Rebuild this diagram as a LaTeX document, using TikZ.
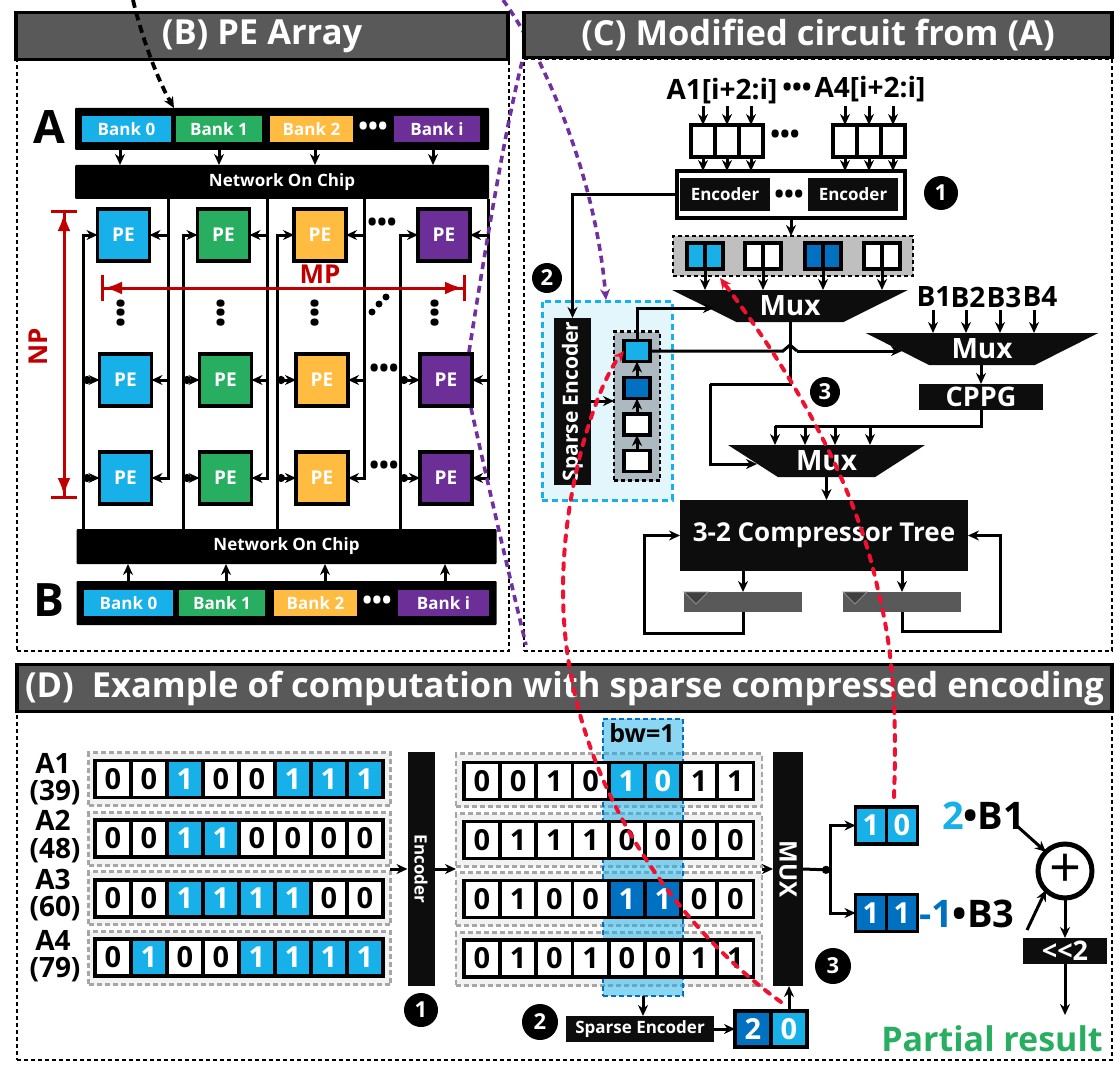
\documentclass[tikz,border=0pt]{standalone}
\usepackage{fontspec}
\setmainfont{Open Sans}
\usetikzlibrary{positioning,arrows.meta,shapes.geometric}
\definecolor{lblue}{HTML}{17B0E8}
\definecolor{dblue}{HTML}{0070C0}
\definecolor{pegreen}{HTML}{27AE60}
\definecolor{peorange}{HTML}{FFBC40}
\definecolor{pepurple}{HTML}{6B2F97}
\definecolor{darkred}{HTML}{C00000}
\definecolor{brightred}{HTML}{F01030}
\definecolor{linepurple}{HTML}{7030A0}
\definecolor{hdrgray}{HTML}{595959}
\definecolor{boxblack}{HTML}{0D0D0D}
\definecolor{queuegray}{HTML}{ADB9C0}
\newcommand{\fsz}[1]{\fontsize{#1}{#1}\selectfont\bfseries}
\tikzset{
  node distance=5pt,
  >={Stealth[length=11pt,width=10pt]},
  every node/.style={inner sep=0pt,outer sep=0pt},
  wire/.style={line width=3pt},
  panel/.style={draw,line width=2.8pt,dash pattern=on 4pt off 3pt},
  hdr/.style={draw,line width=3.2pt,fill=hdrgray,text=white,font=\fsz{34.5}},
  blackbar/.style={fill=black,text=white,font=\fsz{17},rounded corners=1pt},
  bank/.style={text=white,font=\fsz{17},minimum height=25.5pt},
  pebox/.style={draw,line width=3.2pt,text=white,font=\fsz{19},minimum size=52pt},
  dots/.style={font=\fsz{26}},
  bigred/.style={draw=darkred,line width=3pt,{Bar[width=26pt]Latex[length=18pt,width=13pt]}-{Latex[length=18pt,width=13pt]Bar[width=26pt]}},
  blk/.style={fill=boxblack,text=white,font=\fsz{17}},
  num/.style={circle,fill=black,text=white,minimum size=#1,font=\fsz{22}},
  cell/.style={draw,line width=3.8pt},
  bitn/.style={fill=white,text=black},
  bitl/.style={fill=lblue,text=white},
  bitd/.style={fill=dblue,text=white},
  bitcell/.style={cell,font=\fsz{29}},
  band/.style={draw=black!35,fill=black!5,line width=2.6pt,dash pattern=on 5pt off 3pt},
  mux/.style={trapezium,shape border rotate=180,trapezium stretches=true,trapezium left angle=#1,trapezium right angle=#1,fill=boxblack,text=white,font=\fsz{28}},
  lbl/.style={font=\fsz{28}},
  regbox/.style={fill=hdrgray,minimum width=118pt,minimum height=20pt},
  reddash/.style={draw=brightred,line width=4pt,dash pattern=on 6pt off 8pt,line cap=round},
  purpledash/.style={draw=linepurple,line width=3.6pt,dash pattern=on 7pt off 5pt},
}
\begin{document}
\begin{tikzpicture}[x=1pt,y=-1pt]
\useasboundingbox (0,0) rectangle (1120,1070);
\node[panel,minimum width=492pt,minimum height=592pt] (panb) at (263,355) {};
\node[panel,minimum width=588pt,minimum height=592pt] (panc) at (818,355) {};
\node[panel,minimum width=1095pt,minimum height=348pt] (pand) at (564.5,886) {};

\node[blackbar,minimum width=414pt,minimum height=42pt] (bara) at (282,129) {};
\node[bank,fill=lblue,minimum width=89pt] (banka0) at (126.5,129) {Bank 0};
\node[bank,fill=pegreen,minimum width=86pt,right=5pt of banka0] (banka1) {Bank 1};
\node[bank,fill=peorange,minimum width=83pt,right=8pt of banka1] (banka2) {Bank 2};
\node[bank,fill=pepurple,minimum width=86pt] (bankai) at (437,129) {Bank i};
\node[dots,text=white] (dotsa) at (373,129) {•••};
\node[font=\fsz{46}] (lettera) at (49,127) {A};
\node[blackbar,minimum width=414pt,minimum height=34pt] (noct) at (282,182) {Network On Chip};
\node[blackbar,minimum width=420pt,minimum height=35pt] (nocb) at (286.5,546.5) {Network On Chip};
\node[blackbar,minimum width=420pt,minimum height=44pt] (barb) at (286.5,603) {};
\node[bank,fill=lblue,minimum width=89pt] (bankb0) at (128.5,603) {Bank 0};
\node[bank,fill=pegreen,minimum width=86pt,right=6pt of bankb0] (bankb1) {Bank 1};
\node[bank,fill=peorange,minimum width=83pt,right=9pt of bankb1] (bankb2) {Bank 2};
\node[bank,fill=pepurple,minimum width=91pt] (bankbi) at (443.5,603) {Bank i};
\node[dots,text=white] (dotsb) at (377,603) {•••};
\node[font=\fsz{46}] (letterb) at (49,600) {B};
\foreach \x in {120,219,315,433}
  \draw[wire,->] (bara.south -| \x,0) -- (noct.north -| \x,0);
\foreach \x in {128,226,325,445}
  \draw[wire,->] (barb.north -| \x,0) -- (nocb.south -| \x,0);

\foreach \c/\x/\col in {a/123.5/lblue,b/223.5/pegreen,c/320/peorange,d/444/pepurple}
  \foreach \r/\y/\s in {1/235/0,2/380/2,3/478/2}
    \node[pebox,fill=\col] (pe\c\r) at ({\x+\s},\y) {PE};
\foreach \c/\xr/\xl in {a/168/83,b/267/183,c/364/277,d/488/400}{
  \draw[wire,->] (noct.south -| \xr,0) |- (pe\c3.east);
  \draw[wire,->] (pe\c1.east -| \xr,0) -- (pe\c1.east);
  \draw[wire,->] (pe\c2.east -| \xr,0) -- (pe\c2.east);
  \draw[wire,->] (nocb.north -| \xl,0) |- (pe\c1.west);
  \draw[wire,{Circle[length=8pt]}->] (pe\c2.west -| \xl,0) -- (pe\c2.west);
  \draw[wire,{Circle[length=8pt]}->] (pe\c3.west -| \xl,0) -- (pe\c3.west);
}
\node[dots] (dotsr1) at (382,225) {•••};
\node[dots] (dotsr2) at (384,371) {•••};
\node[dots] (dotsr3) at (384,468) {•••};
\node[dots,rotate=90] (dotsva) at (124,313) {•••};
\node[dots,rotate=90] (dotsvb) at (224,313) {•••};
\node[dots,rotate=90] (dotsvc) at (318,313) {•••};
\foreach \n/\x/\y in {1/372/312,2/379/304,3/386/297}
  \node[circle,fill,minimum size=7pt] (dotsd\n) at (\x,\y) {};
\node[dots,rotate=90] (dotsve) at (438,313) {•••};
\coordinate (nptop) at (64,210);
\coordinate (npbot) at (64,499);
\coordinate (mpleft) at (101,288);
\coordinate (mpright) at (466,288);
\draw[bigred] (nptop) -- (npbot);
\draw[bigred] (mpleft) -- (mpright);
\node[font=\fsz{26},text=darkred,rotate=90] (nplabel) at (38,347) {NP};
\node[font=\fsz{26},text=darkred] (mplabel) at (320,274) {MP};

\node[lbl] (labela1) at (722,91) {A1[i+2:i]};
\node[lbl] (labela4) at (870,89) {A4[i+2:i]};
\node[dots] (dotslabel) at (797,90) {•••};
\node[draw,line width=3.2pt,fill=white,minimum width=228pt,minimum height=47pt] (encall) at (791,194.5) {};
\node[blk,minimum width=90pt,minimum height=33pt] (enca) at (725,194.5) {Encoder};
\node[blk,minimum width=90pt,minimum height=33pt] (encb) at (853,194.5) {Encoder};
\node[dots] (dotsenc) at (789,197) {•••};
\node[num=34pt] (numa) at (941,193) {1};
\foreach \n/\x in {1/703,2/727,3/751,4/845,5/869,6/893}{
  \node[cell,bitn,minimum width=24pt,minimum height=32pt] (reg\n) at (\x,141) {};
  \draw[wire,->] ([yshift=19pt]reg\n.north) -- (reg\n.north);
  \draw[wire,->] (reg\n.south) -- (reg\n.south |- encall.north);
}
\node[dots] (dotsreg) at (785,137) {•••};
\node[draw,line width=2.8pt,dash pattern=on 4pt off 3pt,fill=black!25,minimum width=240pt,minimum height=40pt] (pairs) at (793,256) {};
\draw[wire,->] (encall.south) -- (encall.south |- pairs.north);
\node[mux=29,minimum width=236pt,minimum height=32pt] (muxa) at (790,306) {Mux};
\foreach \n/\x/\s in {a/705/l,b/763/n,c/823/d,d/882/n}{
  \node[cell,bit\s,minimum width=18pt,minimum height=26pt,anchor=east] (\n left) at (\x,256) {};
  \node[cell,bit\s,minimum width=18pt,minimum height=26pt,anchor=west] (\n right) at (\x,256) {};
  \draw[wire,->] (\n left.south east) -- (\n left.south east |- muxa.north);
}
\node[num=30pt] (numb) at (547,278) {2};
\node[draw=lblue,fill=lblue!12,line width=3pt,dash pattern=on 6pt off 4pt,minimum width=130pt,minimum height=199pt] (sparsereg) at (607,400.5) {};
\node[blk,rotate=90,minimum width=167pt,minimum height=37pt,font=\fsz{21}] (sparsec) at (572.5,401.5) {Sparse Encoder};
\node[draw,line width=2.8pt,dash pattern=on 4pt off 3pt,fill=queuegray,minimum width=46pt,minimum height=149pt] (queue) at (637,406) {};
\node[cell,bitl,minimum width=26pt,minimum height=21pt] (qa) at (637,351) {};
\node[cell,bitd,minimum width=26pt,minimum height=21pt] (qb) at (637,388) {};
\node[cell,bitn,minimum width=26pt,minimum height=21pt] (qc) at (637,424.5) {};
\node[cell,bitn,minimum width=26pt,minimum height=21pt] (qd) at (637,461) {};
\draw[wire,->] (qd) -- (qc);
\draw[wire,->] (qc) -- (qb);
\draw[wire,->] (qb) -- (qa);
\draw[wire,->] (encall.west) -| (sparsec.east);
\draw[wire,->] (sparsec.south |- queue.west) ++(0,-5) -- ([yshift=5pt]queue.west);
\coordinate (muxaleft) at (714,308);
\draw[wire,->] (qa.north) |- (muxaleft);
\node[lbl] (labelb1) at (934,297) {B1};
\node[lbl] (labelb2) at (968,297) {B2};
\node[lbl] (labelb3) at (1004,297) {B3};
\node[lbl] (labelb4) at (1040,297) {B4};
\node[mux=29,minimum width=233pt,minimum height=32pt] (muxb) at (982,349) {Mux};
\foreach \x in {933,966,1000,1034}
  \draw[wire,->] (\x,310) -- (muxb.north -| \x,0);
\coordinate (hopa) at (783,351);
\coordinate (hopb) at (797,351);
\coordinate (muxbleft) at (902,351);
\draw[wire] (qa.east) -- (hopa) -- (790,345) -- (hopb);
\draw[wire,->] (hopb) -- (muxbleft);
\node[blk,minimum width=124pt,minimum height=26pt,font=\fsz{27}] (cppg) at (981,397) {CPPG};
\draw[wire,->] (muxb.south -| cppg.north) -- (cppg.north);
\node[num=30pt] (numc) at (825,392) {3};
\node[mux=33,minimum width=197pt,minimum height=32pt] (muxc) at (826.5,461) {Mux};
\coordinate (cppgbus) at (775,426);
\draw[wire] (cppg.south) |- (cppgbus);
\foreach \x in {775,805,835,870}
  \draw[wire,->] (cppgbus -| \x,0) -- (muxc.north -| \x,0);
\coordinate (bendc) at (710,384);
\coordinate (muxcleft) at (757,464);
\draw[wire] (muxa.south) -- (muxa.south |- bendc) -- (bendc);
\draw[wire,->] (bendc) |- (muxcleft);
\node[blk,minimum width=288pt,minimum height=71pt,font=\fsz{26}] (comp) at (824,535.5) {3-2 Compressor Tree};
\draw[wire,->] (muxc.south) -- (muxc.south |- comp.north);
\node[regbox] (rega) at (743,602) {};
\node[regbox] (regb) at (902,602) {};
\foreach \r in {rega,regb}
  \filldraw[fill=black!75,draw=black!45,line width=.8pt] (\r.north west) -- ++(24,0) -- ++(-12,12) -- cycle;
\draw[wire,->] (comp.south -| rega.north) -- (rega.north);
\draw[wire,->] (comp.south -| regb.north) -- (regb.north);
\coordinate (fba) at (644,633);
\coordinate (fbb) at (1000,631);
\draw[wire,->] (rega.south) |- (fba) |- (comp.west);
\draw[wire,->] (regb.south) |- (fbb) |- (comp.east);

\foreach \t/\y in {1/779,2/839,3/898,4/958}{
  \node[band,minimum width=302pt,minimum height=53pt] (bandl\t) at (239.5,\y) {};
  \node[band,minimum width=306pt,minimum height=53pt] (bandr\t) at (609,\y+1) {};
}
\node[fill=lblue,fill opacity=.5,draw=dblue,line width=2.8pt,dash pattern=on 5pt off 3pt,minimum width=80pt,minimum height=277pt] (bwcol) at (643,857.5) {};
\node[font=\fsz{25}] (bwlabel) at (642,733) {bw=1};
\foreach \r/\y/\bits in {1/779/{0/n,0/n,1/l,0/n,0/n,1/l,1/l,1/l},2/838.5/{0/n,0/n,1/l,1/l,0/n,0/n,0/n,0/n},3/898.5/{0/n,0/n,1/l,1/l,1/l,1/l,0/n,0/n},4/957.5/{0/n,1/l,0/n,0/n,1/l,1/l,1/l,1/l}}
  \foreach \b/\s [count=\i] in \bits
    \node[bitcell,bit\s,minimum width=36pt,minimum height=37pt] (bl\r\i) at ({113+36*(\i-1)},\y) {\b};
\foreach \r/\y/\bits in {1/781/{0/n,0/n,1/n,0/n,1/l,0/l,1/n,1/n},2/840/{0/n,1/n,1/n,1/n,0/n,0/n,0/n,0/n},3/899/{0/n,1/n,0/n,0/n,1/d,1/d,0/n,0/n},4/958.5/{0/n,1/n,0/n,1/n,0/n,0/n,1/n,1/n}}
  \foreach \b/\s [count=\i] in \bits
    \node[bitcell,bit\s,minimum width=36.2pt,minimum height=37pt] (br\r\i) at ({482+36.2*(\i-1)},\y) {\b};
\foreach \t/\a/\c/\y in {A1/(39)/763/793,A2/(48)/820/851,A3/(60)/879/909,A4/(79)/940/970}{
  \node[font=\fsz{28}] (name\t) at (53,\c) {\t};
  \node[font=\fsz{28}] (value\t) at (55,\y) {\a};
}
\node[blk,rotate=-90,minimum width=234pt,minimum height=27pt] (encd) at (421,869) {Encoder};
\node[num=34pt] (numd) at (421,1010) {1};
\coordinate (encin) at (390,869);
\coordinate (encout) at (456,869);
\draw[wire,->] (encin) -- (encd.south);
\draw[wire,->] (encd.north) -- (encout);
\node[blk,rotate=-90,minimum width=234pt,minimum height=30pt,font=\fsz{24}] (muxd) at (788,869) {MUX};
\coordinate (muxin) at (762,869);
\draw[wire,->] (muxin) -- (muxd.south);
\node[num=36pt] (nume) at (540,1022) {2};
\node[num=36pt] (numf) at (833,966) {3};
\node[blk,minimum width=148pt,minimum height=26pt] (sparsed) at (640,1029) {Sparse Encoder};
\draw[wire,->] (bwcol.south) -- (bwcol.south |- sparsed.north);
\node[bitcell,bitd,minimum width=36pt,minimum height=36pt] (resa) at (753,1029) {2};
\node[bitcell,bitl,minimum width=36pt,minimum height=36pt] (resb) at (789,1029) {0};
\draw[wire,->] (sparsed.east) -- (resa.west);
\draw[wire,->] (resb.north) -- (muxd.east -| resb.north);
\node[bitcell,bitl,minimum width=31pt,minimum height=37pt] (topa) at (871,825.5) {1};
\node[bitcell,bitl,minimum width=31pt,minimum height=37pt] (topb) at (902,825.5) {0};
\node[bitcell,bitd,minimum width=31pt,minimum height=37pt] (bota) at (871,913) {1};
\node[bitcell,bitd,minimum width=31pt,minimum height=37pt] (botb) at (902,913) {1};
\coordinate (split) at (830,870);
\draw[wire,-{Circle[length=8pt]}] (muxd.north) -- (split);
\draw[wire,->] (split) |- (topa.west);
\draw[wire,->] (split) |- (bota.west);
\node[font=\fsz{38},anchor=west] (termb1) at (942,816) {\textcolor{lblue}{2}•B1};
\node[font=\fsz{38},anchor=west] (termb3) at (919,914) {\textcolor{dblue}{-1}•B3};
\node[circle,draw,line width=5pt,fill=white,minimum size=54pt,font=\fontsize{56}{56}\selectfont] (adder) at (1065,871) {+};
\coordinate (termb1end) at (1017,826);
\coordinate (termb3end) at (1027,930);
\draw[wire,->] (termb1end) -- (adder.135);
\draw[wire,->] (termb3end) -- (adder.225);
\node[blk,minimum width=84pt,minimum height=26pt,font=\fsz{27}] (shift) at (1065,951) {<{}<2};
\draw[wire,->] (adder.south) -- (shift.north);
\coordinate (partial) at (1065,1015);
\draw[wire,->] (shift.south) -- (partial);
\node[font=\fsz{34},text=pegreen] (partlabel) at (992,1039) {Partial result};

\coordinate (pa) at (503,0);
\coordinate (pb) at (606,300);
\coordinate (pc) at (469,352);
\coordinate (pd) at (522,62);
\coordinate (pe) at (471,408);
\coordinate (pf) at (526,645);
\draw[purpledash,->] (pa) .. controls (540,50) and (595,170) .. (pb);
\draw[purpledash] (pc) .. controls (485,250) and (505,130) .. (pd);
\draw[purpledash] (pe) .. controls (487,480) and (508,570) .. (pf);
\node[hdr,minimum width=492pt,minimum height=47pt] (hdrb) at (262,36) {(B) PE Array};
\node[hdr,minimum width=588pt,minimum height=45pt] (hdrc) at (818,35) {(C) Modified circuit from (A)};
\node[hdr,minimum width=1095pt,minimum height=47pt] (hdrd) at (564.5,688) {(D)\ \ Example of computation with sparse compressed encoding};
\coordinate (blackstart) at (133,0);
\draw[line width=3.8pt,dash pattern=on 8pt off 5pt,->] (blackstart) .. controls (140,30) and (155,75) .. (bara.north -| 174,0);
\coordinate (redfrom) at (781,1002);
\coordinate (redmid) at (563,590);
\draw[reddash,->] (redfrom) .. controls (680,930) and (563,780) .. (redmid) .. controls (563,480) and (600,380) .. (qa.west);
\coordinate (redtop) at (894,797);
\coordinate (redbend) at (878,590);
\coordinate (redtip) at (720,278);
\draw[reddash,->] (redtop) .. controls (897,710) and (893,650) .. (redbend) .. controls (855,480) and (790,370) .. (redtip);
\end{tikzpicture}
\end{document}
